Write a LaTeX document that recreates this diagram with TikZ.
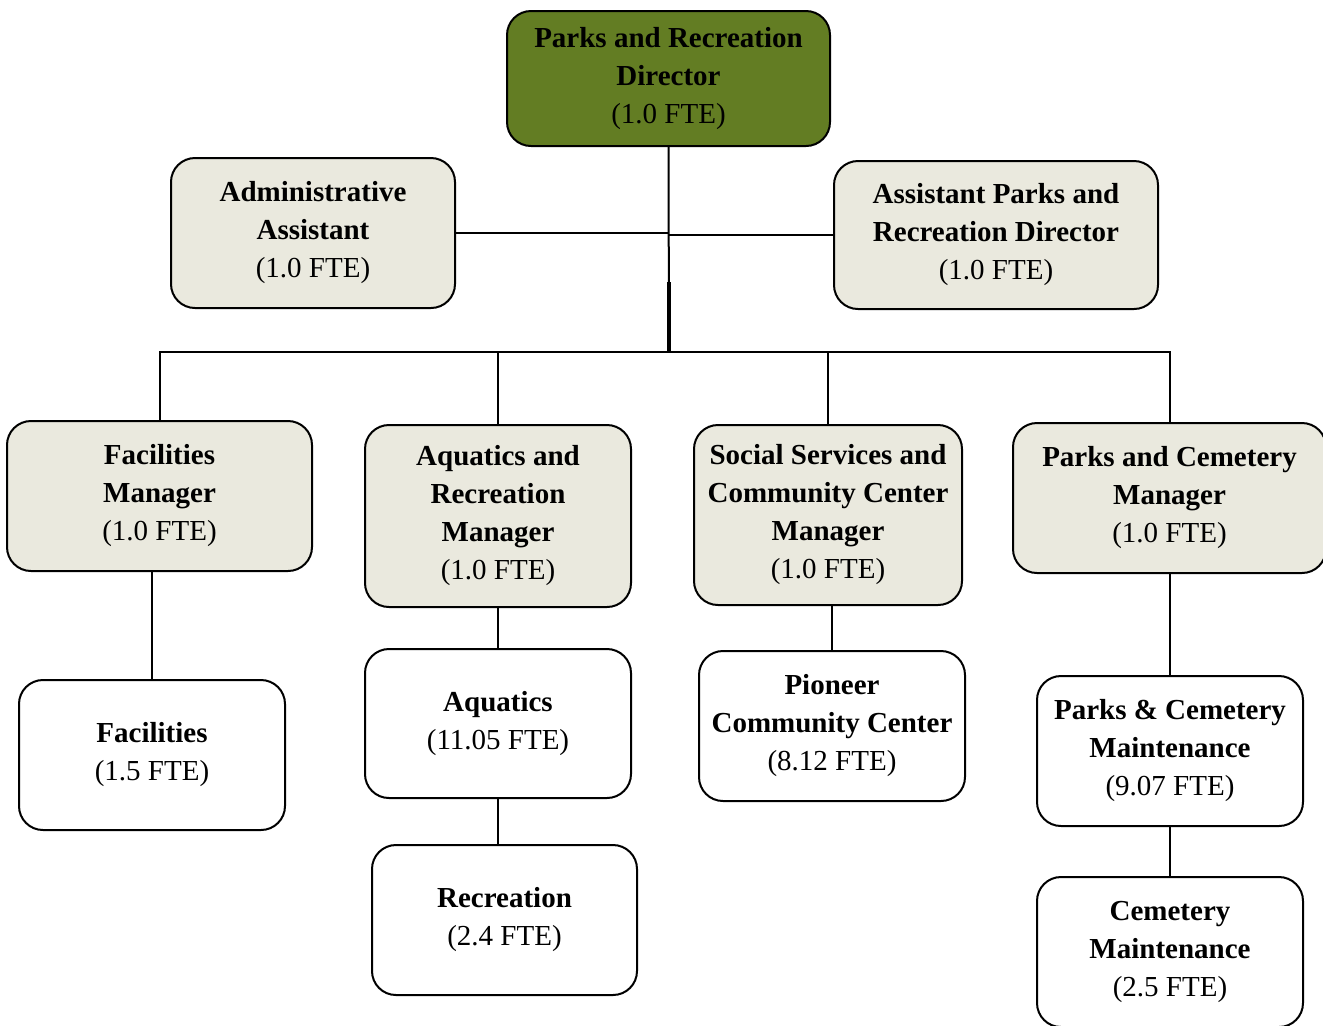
\documentclass[tikz,border=0pt]{standalone}
\usepackage{fontspec}
\setmainfont{Liberation Serif}
\usetikzlibrary{positioning}
\definecolor{dirgreen}{RGB}{99,125,35}
\definecolor{mgrgray}{RGB}{234,233,222}

\begin{document}
\begin{tikzpicture}[x=0.5pt, y=-0.5pt, line width=1pt,
		puesto/.style={draw, line width=1pt, rounded corners=12pt, align=center,
			inner sep=0pt, minimum width=133pt, minimum height=75pt,
			font=\fontsize{14.5}{19}\selectfont},
		jefe/.style={puesto, fill=dirgreen},
		gerente/.style={puesto, fill=mgrgray},
		unidad/.style={puesto, fill=white}]
			\clip (0,0) rectangle (1323,1025);

			% Direccion
			\node[jefe, minimum width=161.5pt, minimum height=67.5pt] (dir) at (668.5,78.5)
				{\textbf{Parks and Recreation}\\\textbf{Director}\\(1.0 FTE)};
			\node[gerente, minimum width=142pt] (aa) at (313,233)
				{\textbf{Administrative}\\\textbf{Assistant}\\(1.0 FTE)};
			\node[gerente, minimum width=162pt, minimum height=74pt] (apd) at (996,235)
				{\textbf{Assistant Parks and}\\\textbf{Recreation Director}\\(1.0 FTE)};

			% Gerentes
			\node[gerente, minimum width=152.5pt] (fm) at (159.5,496)
				{\textbf{Facilities}\\\textbf{Manager}\\(1.0 FTE)};
			\node[gerente, minimum height=91pt] (arm) at (498,516)
				{\textbf{Aquatics and}\\\textbf{Recreation}\\\textbf{Manager}\\(1.0 FTE)};
			\node[gerente, minimum width=134pt, minimum height=90pt] (ssm) at (828,515)
				{\textbf{Social Services and}\\\textbf{Community Center}\\\textbf{Manager}\\(1.0 FTE)};
			\node[gerente, minimum width=156.5pt] (pcm) at (1169.5,498)
				{\textbf{Parks and Cemetery}\\\textbf{Manager}\\(1.0 FTE)};

			% Unidades
			\node[unidad] (fac) at (152,755) {\textbf{Facilities}\\(1.5 FTE)};
			\node[unidad, minimum height=74.5pt] (aq) at (498,723.5) {\textbf{Aquatics}\\(11.05 FTE)};
			\node[unidad, minimum width=132.5pt] (rec) at (504.5,920) {\textbf{Recreation}\\(2.4 FTE)};
			\node[unidad] (pio) at (832,726)
				{\textbf{Pioneer}\\\textbf{Community Center}\\(8.12 FTE)};
			\node[unidad] (pcmt) at (1170,751)
				{\textbf{Parks \& Cemetery}\\\textbf{Maintenance}\\(9.07 FTE)};
			\node[unidad] (cmt) at (1170,952)
				{\textbf{Cemetery}\\\textbf{Maintenance}\\(2.5 FTE)};

			% Lineas
			\coordinate (bus) at (669,352);
			\coordinate (mid) at (669,282);
			\draw (dir.south) -- (bus);
			\draw[line width=1.6pt] (mid) -- (bus);
			\draw (aa.east) -- (aa.east -| bus);
			\draw (apd.west) -- (apd.west -| bus);
			\draw (fm.north) |- (bus) -| (pcm.north);
			\draw (arm.north) -- (arm.north |- bus);
			\draw (ssm.north) -- (ssm.north |- bus);
			\draw (fac.north) -- (fac.north |- fm.south);
			\draw (arm.south) -- (aq.north);
			\draw (aq.south) -- (aq.south |- rec.north);
			\draw (pio.north) -- (pio.north |- ssm.south);
			\draw (pcmt.north) -- (pcmt.north |- pcm.south);
			\draw (pcmt.south) -- (cmt.north);
		\end{tikzpicture}
\end{document}
